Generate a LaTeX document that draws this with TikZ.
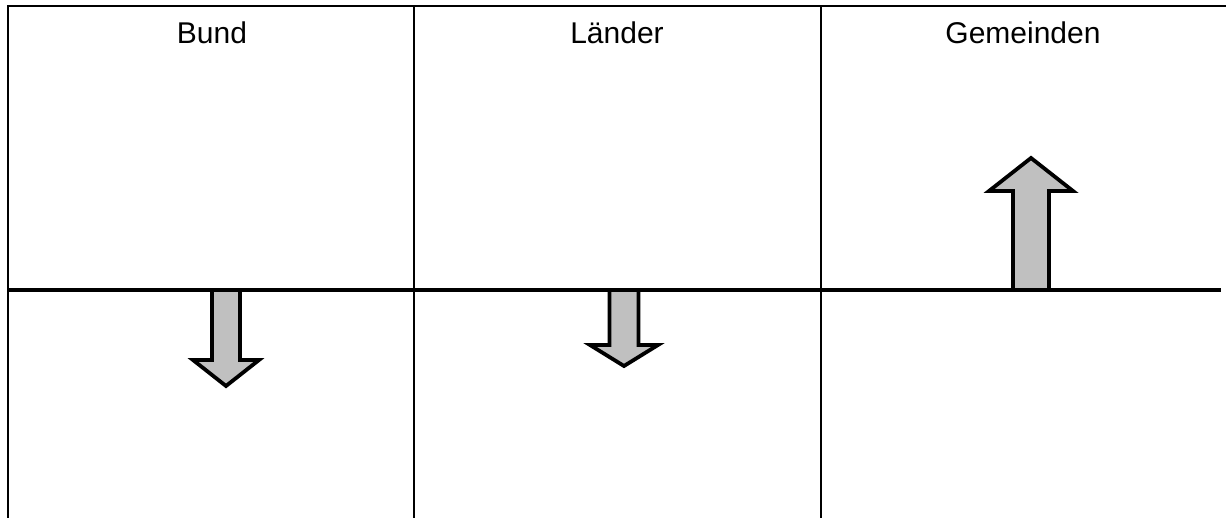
\documentclass[tikz,border=0pt]{standalone}
\usepackage{fontspec}
\setmainfont{Liberation Sans}
\begin{document}
\begin{tikzpicture}[x=1pt,y=-1pt,
  frame/.style={line width=2pt,black},
  midline/.style={line width=4.5pt,black},
  bigarrow/.style={fill={rgb,255:red,192;green,192;blue,192},draw=black,line width=3.8pt,line join=miter},
  label/.style={font=\fontsize{30}{34}\selectfont,anchor=base,inner sep=0pt}]
\useasboundingbox (0,0) rectangle (1226,518);
% arrows
\draw[bigarrow] (212,290) -- (212,360) -- (193,360) -- (226,386) -- (259,360) -- (240,360) -- (240,290);
\draw[bigarrow] (609.5,290) -- (609.5,345) -- (590,345) -- (624,366) -- (658,345) -- (638.5,345) -- (638.5,290);
\draw[bigarrow] (1013,290) -- (1013,191) -- (989,191) -- (1031,158) -- (1073,191) -- (1049,191) -- (1049,290);
% frame
\draw[frame] (8,518) -- (8,6) -- (1226,6);
\draw[frame] (414,6) -- (414,518);
\draw[frame] (821,6) -- (821,518);
\draw[midline] (8,290) -- (1221,290);
% labels
\node[label] (bund) at (212,44) {Bund};
\node[label] (laender) at (617,44) {Länder};
\node[label] (gemeinden) at (1023,44) {Gemeinden};
\end{tikzpicture}
\end{document}
